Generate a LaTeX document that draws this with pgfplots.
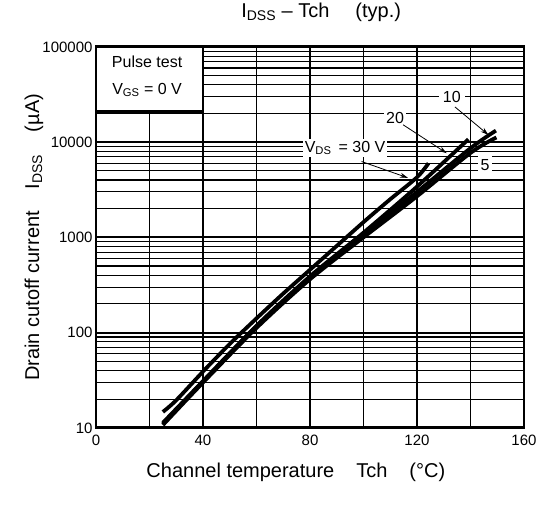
\documentclass[border=0pt]{standalone}
\usepackage{pgfplots}
\pgfplotsset{compat=1.18}
\usepackage{fontspec}
\setmainfont{Liberation Sans}
\usetikzlibrary{arrows.meta}

\newcommand{\labfont}{\fontsize{20}{24}\selectfont}
\newcommand{\notefont}{\fontsize{16}{19}\selectfont}

\begin{document}
\begin{tikzpicture}
\begin{axis}[
  scale only axis, width=428pt, height=381pt,
  xmin=0, xmax=160,
  ymode=log, ymin=10, ymax=100000,
  xtick={0,40,...,160},
  minor xtick={20,60,100,140},
  ytick={10,100,1000,10000,100000},
  yticklabels={10,100,1000,10000,100000},
  minor ytick={20,30,40,50,60,70,80,90,
    200,300,400,500,600,700,800,900,
    2000,3000,4000,5000,6000,7000,8000,9000,
    20000,30000,40000,50000,60000,70000,80000,90000},
  grid=both,
  major grid style={black, line width=1.9pt},
  minor grid style={black, line width=1.1pt},
  axis line style={line width=2.8pt},
  major tick length=0pt, minor tick length=0pt,
  tick label style={font=\fontsize{15}{18}\selectfont},
  xticklabel style={yshift=-4pt},
  /pgf/number format/assume math mode=true,
  title={I\textsubscript{DSS} -- Tch\hspace{1.3em}(typ.)},
  title style={at={(axis description cs:0.526,1.074)}, anchor=center, font=\labfont},
  xlabel={Channel temperature\hspace{1.1em}Tch\hspace{1.1em}(°C)},
  xlabel style={at={(axis description cs:0.467,-0.118)}, anchor=center, font=\labfont},
  ylabel={Drain cutoff current\hspace{1.1em}I\textsubscript{DSS}\hspace{1.1em}(µA)},
  ylabel style={at={(axis description cs:-0.145,0.5)}, anchor=center, font=\labfont},
  clip=false,
]
% test conditions box
\draw[line width=2.4pt, fill=white] (axis cs:0,21000) rectangle (axis cs:40,100000);
\node[font=\notefont] at (axis cs:19.1,69700) {Pulse test};
\node[font=\notefont] at (axis cs:19.1,35400) {V\textsubscript{GS} = 0 V};

% VDS = 5 V
\addplot[black, line width=3.8pt, smooth] coordinates {
  (25,10.7) (40,29.9) (60,112) (80,363) (100,1000) (120,2700) (140,7700) (149.7,11200)
};
% VDS = 10 V
\addplot[black, line width=3.8pt, smooth] coordinates {
  (25,11) (40,30.6) (60,116) (80,376) (100,1060) (120,3000) (140,8630) (149.5,13200)
};
% VDS = 20 V
\addplot[black, line width=3.8pt, smooth] coordinates {
  (25,11.3) (40,31) (60,118) (80,390) (100,1120) (120,3410) (139.2,10700)
};
% VDS = 30 V
\addplot[black, line width=3.8pt, smooth] coordinates {
  (25,14.7) (30,19.5) (40,39) (50,76) (60,141) (70,257) (80,457) (90,813)
  (100,1445) (110,2512) (120,4270) (124.3,6000)
};

% labels and arrows
\node[fill=white, inner sep=2pt, font=\notefont] at (axis cs:93.1,8710) {V\textsubscript{DS}\, = 30 V};
\draw[line width=0.8pt, -{Stealth[length=8pt,width=5pt]}] (axis cs:99.3,6250) -- (axis cs:116.6,4215);
\node[fill=white, inner sep=2pt, font=\notefont] at (axis cs:111.8,18100) {20};
\draw[line width=0.8pt, -{Stealth[length=8pt,width=5pt]}] (axis cs:114.8,15200) -- (axis cs:131.1,7650);
\node[fill=white, inner xsep=4pt, inner ysep=2pt, font=\notefont] at (axis cs:133,30100) {10};
\draw[line width=0.8pt, -{Stealth[length=8pt,width=5pt]}] (axis cs:134.2,23400) -- (axis cs:146.7,11900);
\node[fill=white, inner sep=3pt, font=\notefont] at (axis cs:145.4,5770) {5};
\end{axis}
\path (current axis.south west) ++(-96pt,-79pt) coordinate (bl);
\path (current axis.north east) ++(21pt,42pt) coordinate (tr);
\path (bl) rectangle (tr);
\end{tikzpicture}
\end{document}
